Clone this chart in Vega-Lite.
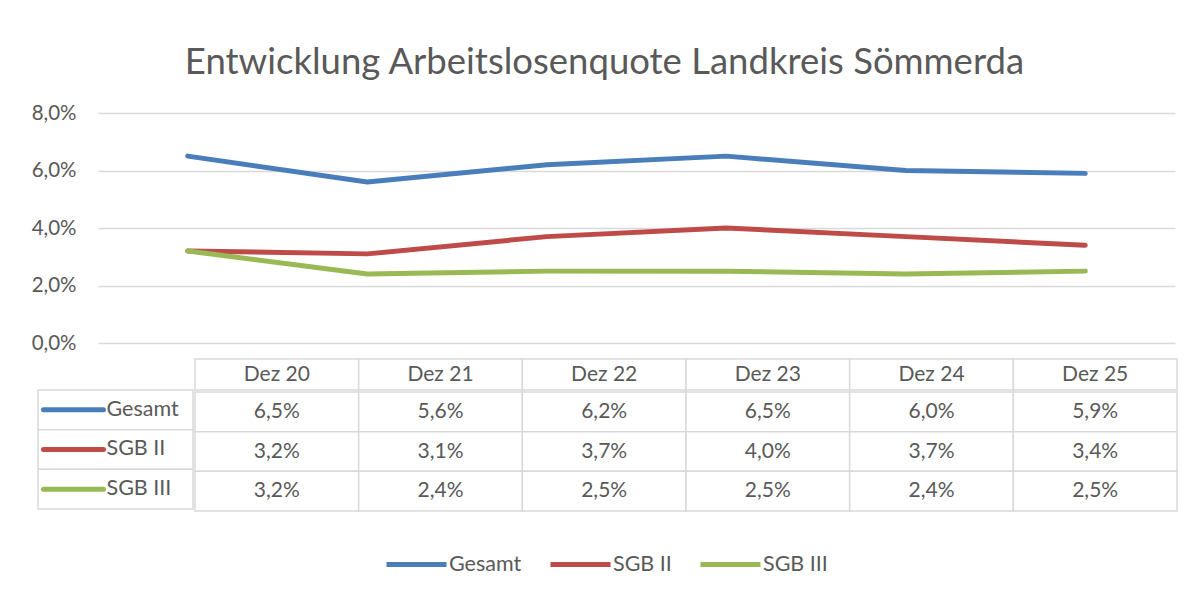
{
  "$schema": "https://vega.github.io/schema/vega-lite/v6.json",
  "background": "white",
  "padding": {"left": 31, "top": 44, "right": 10, "bottom": 10},
  "config": {
    "view": {"stroke": null},
    "font": "Lato",
    "locale": {"number": {"decimal": ",", "thousands": ".", "grouping": [3], "currency": ["", " €"]}}
  },
  "title": {"text": "Entwicklung Arbeitslosenquote Landkreis Sömmerda", "fontSize": 36.5, "font": "Lato", "fontWeight": "normal", "color": "#595959", "anchor": "middle", "offset": 22},
  "datasets": {
    "quote": [
      {"Monat": "Dez 20", "Serie": "Gesamt", "Wert": 0.065},
      {"Monat": "Dez 21", "Serie": "Gesamt", "Wert": 0.056},
      {"Monat": "Dez 22", "Serie": "Gesamt", "Wert": 0.062},
      {"Monat": "Dez 23", "Serie": "Gesamt", "Wert": 0.065},
      {"Monat": "Dez 24", "Serie": "Gesamt", "Wert": 0.060},
      {"Monat": "Dez 25", "Serie": "Gesamt", "Wert": 0.059},
      {"Monat": "Dez 20", "Serie": "SGB II", "Wert": 0.032},
      {"Monat": "Dez 21", "Serie": "SGB II", "Wert": 0.031},
      {"Monat": "Dez 22", "Serie": "SGB II", "Wert": 0.037},
      {"Monat": "Dez 23", "Serie": "SGB II", "Wert": 0.040},
      {"Monat": "Dez 24", "Serie": "SGB II", "Wert": 0.037},
      {"Monat": "Dez 25", "Serie": "SGB II", "Wert": 0.034},
      {"Monat": "Dez 20", "Serie": "SGB III", "Wert": 0.032},
      {"Monat": "Dez 21", "Serie": "SGB III", "Wert": 0.024},
      {"Monat": "Dez 22", "Serie": "SGB III", "Wert": 0.025},
      {"Monat": "Dez 23", "Serie": "SGB III", "Wert": 0.025},
      {"Monat": "Dez 24", "Serie": "SGB III", "Wert": 0.024},
      {"Monat": "Dez 25", "Serie": "SGB III", "Wert": 0.025}
    ],
    "serien": [{"Serie": "Gesamt"}, {"Serie": "SGB II"}, {"Serie": "SGB III"}],
    "monate": [{"Monat": "Dez 20"}, {"Monat": "Dez 21"}, {"Monat": "Dez 22"}, {"Monat": "Dez 23"}, {"Monat": "Dez 24"}, {"Monat": "Dez 25"}]
  },
  "data": {"name": "quote"},
  "spacing": 4,
  "resolve": {"scale": {"x": "independent", "y": "independent", "color": "shared"}},
  "vconcat": [
    {
      "spacing": 0,
      "bounds": "flush",
      "resolve": {"scale": {"x": "independent", "y": "independent"}},
      "hconcat": [
        {"width": 60, "height": 230, "data": {"values": []}, "mark": "point"},
        {
          "width": 1077,
          "height": 230,
          "mark": {"type": "line", "strokeWidth": 5, "strokeCap": "round", "strokeJoin": "round"},
          "encoding": {
            "x": {"field": "Monat", "type": "ordinal", "sort": ["Dez 20", "Dez 21", "Dez 22", "Dez 23", "Dez 24", "Dez 25"], "scale": {"type": "point", "padding": 0.5}, "axis": null},
            "y": {"field": "Wert", "type": "quantitative", "scale": {"domain": [0, 0.08], "nice": false, "zero": true},
                  "axis": {"values": [0, 0.02, 0.04, 0.06, 0.08], "format": ".1%", "title": null, "grid": true, "gridColor": "#d9d9d9", "gridWidth": 1.3, "domain": false, "ticks": false, "labelPadding": 22, "labelFontSize": 20.5, "labelColor": "#595959", "labelFont": "Lato"}},
            "color": {"field": "Serie", "type": "nominal",
                      "scale": {"domain": ["Gesamt", "SGB II", "SGB III"], "range": ["#4A7EBB", "#BE4B48", "#98B954"]},
                      "legend": {"orient": "none", "legendX": 346, "legendY": 419, "direction": "horizontal", "title": null, "symbolType": "stroke", "symbolSize": 3600, "symbolStrokeWidth": 5, "labelFontSize": 21.5, "labelColor": "#595959", "labelFont": "Lato", "labelOffset": 0, "columnPadding": 18}}
          }
        }
      ]
    },
    {
      "spacing": 0,
      "resolve": {"scale": {"x": "independent", "y": "independent"}},
      "hconcat": [
        {
          "width": 155,
          "height": 150,
          "data": {"name": "serien"},
          "encoding": {
            "y": {"field": "Serie", "type": "nominal", "scale": {"domain": ["Gesamt", "SGB II", "SGB III"], "paddingInner": 0, "paddingOuter": 0.39, "align": 1}, "axis": null}
          },
          "layer": [
            {"mark": {"type": "rect", "fill": "white", "stroke": "#d9d9d9", "strokeWidth": 1.5}},
            {"mark": {"type": "point", "shape": "stroke", "size": 3600, "strokeWidth": 5, "filled": false, "opacity": 1, "strokeCap": "round", "xOffset": -42},
             "encoding": {"color": {"field": "Serie", "type": "nominal", "legend": null}}},
            {"mark": {"type": "text", "align": "left", "dx": -9, "fontSize": 21.5, "color": "#595959", "font": "Lato"},
             "encoding": {"text": {"field": "Serie", "type": "nominal"}}}
          ]
        },
        {
          "spacing": 0,
          "resolve": {"scale": {"x": "independent", "y": "independent"}},
          "vconcat": [
            {
              "width": 982,
              "height": 31,
              "data": {"name": "monate"},
              "encoding": {
                "x": {"field": "Monat", "type": "nominal", "sort": ["Dez 20", "Dez 21", "Dez 22", "Dez 23", "Dez 24", "Dez 25"], "scale": {"paddingInner": 0, "paddingOuter": 0}, "axis": null}
              },
              "layer": [
                {"mark": {"type": "rect", "fill": "white", "stroke": "#d9d9d9", "strokeWidth": 1.5}},
                {"mark": {"type": "text", "fontSize": 21, "color": "#595959", "font": "Lato"}, "encoding": {"text": {"field": "Monat", "type": "nominal"}}}
              ]
            },
            {
              "width": 982,
              "height": 119,
              "encoding": {
                "x": {"field": "Monat", "type": "nominal", "sort": ["Dez 20", "Dez 21", "Dez 22", "Dez 23", "Dez 24", "Dez 25"], "scale": {"paddingInner": 0, "paddingOuter": 0}, "axis": null},
                "y": {"field": "Serie", "type": "nominal", "sort": ["Gesamt", "SGB II", "SGB III"], "scale": {"paddingInner": 0, "paddingOuter": 0}, "axis": null}
              },
              "layer": [
                {"mark": {"type": "rect", "fill": "white", "stroke": "#d9d9d9", "strokeWidth": 1.5}},
                {"mark": {"type": "text", "fontSize": 21, "color": "#595959", "font": "Lato"}, "encoding": {"text": {"field": "Wert", "type": "quantitative", "format": ".1%"}}}
              ]
            }
          ]
        }
      ]
    }
  ]
}
